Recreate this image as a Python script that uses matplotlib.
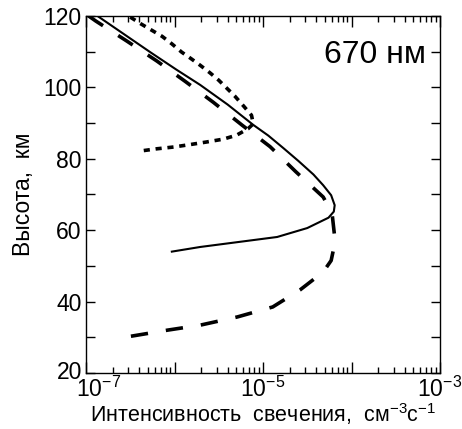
import matplotlib
matplotlib.use("Agg")
import matplotlib.pyplot as plt
import matplotlib.transforms as mtransforms
from matplotlib.ticker import LogLocator, FixedLocator, MultipleLocator, NullFormatter
import numpy as np

plt.rcParams['font.family'] = ['Liberation Sans', 'DejaVu Sans']
plt.rcParams['mathtext.fontset'] = 'custom'
plt.rcParams['mathtext.rm'] = 'Liberation Sans'
plt.rcParams['mathtext.default'] = 'regular'

# solid curve (log10 of intensity, altitude km)
solid_log = [-6.87, -6.27, -5.98, -5.71, -5.40, -5.11, -4.94, -4.77, -4.60, -4.43,
             -4.32, -4.23, -4.19, -4.20, -4.26, -4.50, -4.84, -5.71, -6.03]
solid_alt = [120, 109.8, 105.0, 100.7, 95.2, 89.5, 86.5, 83.0, 79.4, 75.6,
             72.6, 69.8, 67.0, 65.2, 63.5, 60.6, 58.1, 55.3, 54]

# dashed curve
dash_log = [-6.97, -6.89, -6.54, -6.20, -5.88, -5.56, -5.24, -4.92, -4.63, -4.32,
            -4.22, -4.19, -4.20, -4.23, -4.32, -4.58, -4.89, -5.29, -5.71, -6.08, -6.54]
dash_alt = [120, 118.6, 113, 107.4, 101.7, 95.8, 89.5, 83.4, 76.4, 69.3,
            64.8, 58.1, 55, 51.5, 48.3, 43.3, 38.5, 35.7, 33.4, 32, 30.1]

# dotted curve
dot_log = [-6.50, -6.38, -6.27, -6.14, -6.03, -5.92, -5.81, -5.71, -5.60, -5.50,
           -5.41, -5.32, -5.22, -5.13, -5.11, -5.17, -5.30, -5.45, -5.64, -5.82,
           -6.01, -6.20, -6.41]
dot_alt = [119.7, 117.8, 116.2, 114.3, 112.2, 109.9, 108.0, 106.2, 104.1, 102,
           99.8, 97.6, 94.8, 92.2, 89.8, 88.4, 86.6, 85.5, 84.7, 84.0,
           83.3, 82.8, 82.1]

fig = plt.figure(figsize=(4.62, 4.29), dpi=100)
ax = fig.add_axes([86 / 462, 56 / 429, 354 / 462, 357 / 429])

ax.plot(10.0 ** np.array(solid_log), solid_alt, color='black', lw=1.5)
ax.plot(10.0 ** np.array(dash_log), dash_alt, color='black', lw=2.6, dashes=(4.8, 5.0))
ax.plot(10.0 ** np.array(dot_log), dot_alt, color='black', lw=2.6, dashes=(1.7, 1.6))

ax.set_xscale('log')
ax.set_xlim(1e-7, 1e-3)
ax.set_ylim(20, 120)

ax.xaxis.set_major_locator(FixedLocator([1e-7, 1e-6, 1e-5, 1e-4, 1e-3]))
ax.set_xticklabels(['$10^{-7}$', '', '$10^{-5}$', '', '$10^{-3}$'])
ax.xaxis.set_minor_locator(LogLocator(base=10, subs=np.arange(2, 10), numticks=20))
ax.xaxis.set_minor_formatter(NullFormatter())
ax.yaxis.set_major_locator(FixedLocator([20, 40, 60, 80, 100, 120]))
ax.set_yticklabels(['20', '40', '60', '80', '100', '120'])
ax.yaxis.set_minor_locator(MultipleLocator(10))

ax.tick_params(which='both', direction='in', top=True, right=True, labelsize=16.5, width=1)
ax.tick_params(axis='x', which='major', length=8, pad=3)
ax.tick_params(axis='x', which='minor', length=4)
ax.tick_params(axis='y', which='both', length=6.5, pad=3)
for s in ax.spines.values():
    s.set_linewidth(1)

# shift the corner tick labels apart
lbl = ax.get_xticklabels()[0]
lbl.set_transform(lbl.get_transform() + mtransforms.ScaledTranslation(13 / 100, 0, fig.dpi_scale_trans))
lbl20 = ax.get_yticklabels()[0]
lbl20.set_transform(lbl20.get_transform() + mtransforms.ScaledTranslation(0, 3 / 100, fig.dpi_scale_trans))

ax.set_xlabel('Интенсивность  свечения,  см$^{-3}$с$^{-1}$', fontsize=15.5, labelpad=-1)
ax.set_ylabel('Высота,  км', fontsize=16.5, labelpad=6)
ax.text(0.96, 0.89, '670 нм', transform=ax.transAxes, ha='right', va='center', fontsize=23)

fig.savefig('out.png', dpi=100)
